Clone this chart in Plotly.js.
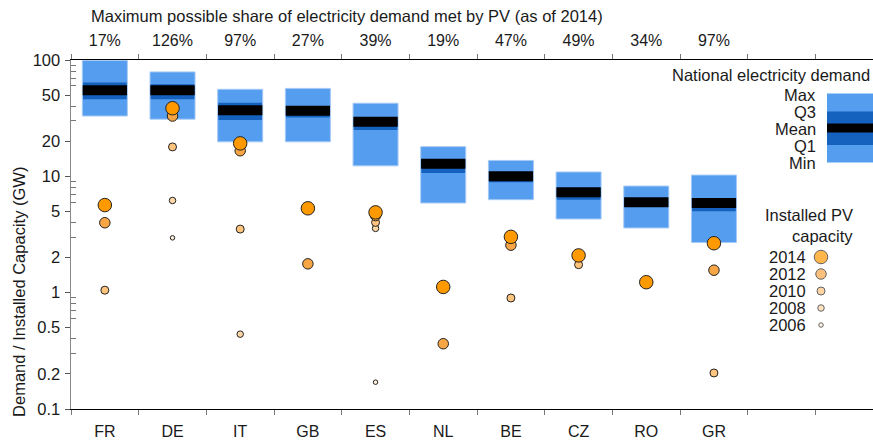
<!DOCTYPE html>
<html>
<head>
<meta charset="utf-8">
<script src="https://cdn.plot.ly/plotly-3.0.1.min.js"></script>
<style>
  html, body { margin: 0; padding: 0; background: #fff; }
  #chart { width: 873px; height: 440px; }
</style>
</head>
<body>
<div id="chart"></div>
<script>
// countries and the share of demand that PV could meet (top axis)
const countries = ['FR', 'DE', 'IT', 'GB', 'ES', 'NL', 'BE', 'CZ', 'RO', 'GR'];
const pvShare = ['17%', '126%', '97%', '27%', '39%', '19%', '47%', '49%', '34%', '97%'];

// national electricity demand, GW
const demandMin  = [33, 31, 19.8, 19.8, 12.3, 5.9, 6.3, 4.3, 3.6, 2.7];
const demandQ1   = [46, 46, 30.5, 32, 25, 10.7, 8.9, 6.3, 5.5, 5.0];
const demandMean = [55, 55, 37, 36.6, 29.5, 12.8, 10.0, 7.3, 6.0, 5.9];
const demandQ3   = [64, 62, 43, 39, 31, 13.4, 10.6, 7.7, 6.3, 6.4];
const demandMax  = [99, 79, 56, 57, 42.5, 18, 13.7, 10.9, 8.25, 10.25];

// installed PV capacity, GW (null = below the axis)
const pvYears = ['2006', '2008', '2010', '2012', '2014'];
const pv2006 = [null, 2.96, null, null, 0.17, null, null, null, null, null];
const pv2008 = [null, 6.2, 0.44, null, 3.57, null, null, null, null, null];
const pv2010 = [1.05, 17.9, 3.52, null, 4.02, null, 0.9, 1.74, null, 0.204];
const pv2012 = [3.99, 33, 16.6, 1.77, 4.6, 0.364, 2.56, 2.05, null, 1.56];
const pv2014 = [5.66, 38.5, 19.2, 5.31, 4.9, 1.12, 3.02, 2.09, 1.23, 2.66];

const yTicks = [0.1, 0.2, 0.5, 1, 2, 5, 10, 20, 50, 100];
const yMinor = [0.3, 0.4, 0.6, 0.7, 0.8, 0.9, 3, 4, 6, 7, 8, 9, 30, 40, 60, 70, 80, 90];

const xs = countries.map((c, i) => i);
const bounds = Array.from({ length: 12 }, (_, i) => i - 0.5);
const boxW = 0.665;

const lightBlue = '#549DEF';
const darkBlue = '#1562BE';
const pvColors = ['#FFF0DC', '#FFD7A6', '#FFC47E', '#F8A645', '#FF9900'];
const pvSizes = [4.5, 6.5, 8, 10.5, 13.5];
const pvData = [pv2006, pv2008, pv2010, pv2012, pv2014];
const font = 'Liberation Sans, Arial, sans-serif';
const ink = '#1a1a1a';

const traces = [];

traces.push({
  type: 'bar', x: xs, base: demandMin,
  y: demandMax.map((v, i) => v - demandMin[i]),
  width: boxW, marker: { color: lightBlue, line: { color: '#A6CAF6', width: 1 } },
  hoverinfo: 'skip', showlegend: false,
});
traces.push({
  type: 'bar', x: xs, base: demandQ1,
  y: demandQ3.map((v, i) => v - demandQ1[i]),
  width: boxW - 0.02, marker: { color: darkBlue, line: { width: 0 } },
  hoverinfo: 'skip', showlegend: false,
});

// mean as a thick black band across each box
const meanX = [], meanY = [];
xs.forEach((x, i) => {
  meanX.push(x - boxW / 2 + 0.005, x + boxW / 2 - 0.005, null);
  meanY.push(demandMean[i], demandMean[i], null);
});
traces.push({
  type: 'scatter', mode: 'lines', x: meanX, y: meanY,
  line: { color: '#000', width: 10 }, hoverinfo: 'skip', showlegend: false,
});

pvData.forEach((arr, k) => {
  traces.push({
    type: 'scatter', mode: 'markers', x: xs, y: arr,
    marker: { size: pvSizes[k], color: pvColors[k], line: { color: '#222', width: 1 } },
    name: pvYears[k], showlegend: false,
  });
});

// invisible trace so the top axis gets drawn
traces.push({ type: 'scatter', x: [0], y: [1], xaxis: 'x2', mode: 'markers',
  marker: { opacity: 0 }, hoverinfo: 'skip', showlegend: false });

// legend overlay in pixel coordinates
const legYears = [...pvYears].reverse();
const legY = [257, 274, 291, 308, 325];
traces.push({
  type: 'scatter', mode: 'markers', xaxis: 'x3', yaxis: 'y3',
  x: legY.map(() => 821), y: legY,
  marker: { size: [...pvSizes].reverse(), color: [...pvColors].reverse(), line: { color: '#222', width: 1 } },
  hoverinfo: 'skip', showlegend: false,
});

const annotations = [];
const addText = (text, x, y, extra) => annotations.push(Object.assign({
  xref: 'x3', yref: 'y3', x, y, text, showarrow: false, xanchor: 'right',
  font: { family: font, size: 16.5, color: ink },
}, extra || {}));
addText('National electricity demand', 872, 75);
['Max', 'Q3', 'Mean', 'Q1', 'Min'].forEach((t, i) => addText(t, 818, 95 + i * 17));
addText('Installed PV', 855, 215);
addText('capacity', 855, 236);
legYears.forEach((t, i) => addText(t, 808, legY[i]));
// titles sit outside the plot, so place them on the paper
addText('Maximum possible share of electricity demand met by PV (as of 2014)', 0.344, 1.126,
  { xref: 'paper', yref: 'paper', xanchor: 'center', yanchor: 'middle' });
addText('Demand / Installed Capacity (GW)', -0.065, 0.335,
  { xref: 'paper', yref: 'paper', xanchor: 'center', yanchor: 'middle', textangle: -90 });

const rect = (y0, y1, color) => ({
  type: 'rect', xref: 'x3', yref: 'y3', x0: 827, x1: 873, y0, y1,
  fillcolor: color, line: { width: 0 }, layer: 'above',
});
const shapes = [
  rect(93.5, 162.5, lightBlue),
  rect(111.5, 145, darkBlue),
  rect(123.5, 132.5, '#000'),
];

const xRange = [-0.5, 11.35];
const minorX = { tickmode: 'array', tickvals: bounds, ticks: 'outside', ticklen: 5, tickcolor: '#777', tickwidth: 1 };

const layout = {
  width: 873, height: 440,
  margin: { l: 71, r: 0, t: 60, b: 31 },
  paper_bgcolor: '#fff', plot_bgcolor: '#fff',
  font: { family: font, color: ink, size: 16 },
  barmode: 'overlay', showlegend: false,
  xaxis: {
    range: xRange, tickmode: 'array', tickvals: xs, ticktext: countries,
    ticks: '', ticklabelstandoff: 8, showgrid: false, zeroline: false,
    showline: true, linecolor: '#000', linewidth: 1, minor: minorX,
    tickfont: { size: 16 },
  },
  xaxis2: {
    overlaying: 'x', side: 'top', anchor: 'y', range: xRange,
    tickmode: 'array', tickvals: xs, ticktext: pvShare, ticks: '', ticklabelstandoff: 7,
    showgrid: false, zeroline: false, showline: true, linecolor: '#000', linewidth: 1,
    minor: minorX, tickfont: { size: 16 },
  },
  yaxis: {
    type: 'log', range: [-1, 2], tickmode: 'array', tickvals: yTicks,
    ticktext: yTicks.map(String), ticks: 'outside', ticklen: 5, tickcolor: '#555',
    showgrid: false, zeroline: false, showline: true, linecolor: '#888', linewidth: 1.5,
    minor: { tickmode: 'array', tickvals: yMinor, ticks: 'inside', ticklen: 5, tickcolor: '#777' },
    tickfont: { size: 16.5 }, ticklabelstandoff: 1,
  },
  xaxis3: { overlaying: 'x', anchor: 'y3', range: [71, 873], visible: false },
  yaxis3: { overlaying: 'y', anchor: 'x3', range: [409, 60], visible: false },
  annotations, shapes,
};

Plotly.newPlot('chart', traces, layout, { displayModeBar: false, staticPlot: true });
</script>
</body>
</html>
